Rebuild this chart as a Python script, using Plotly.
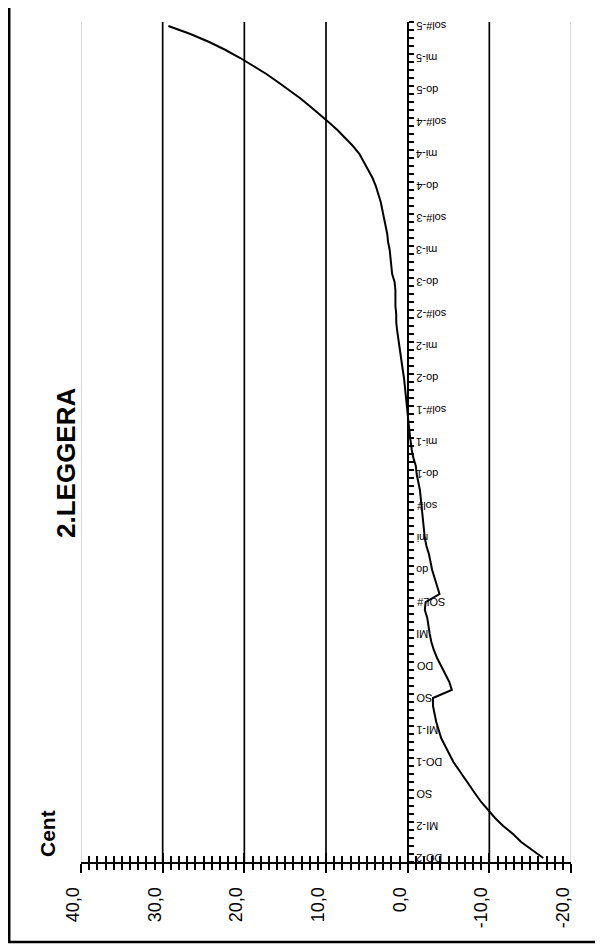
import plotly.graph_objects as go

# ---- data ----
# one point per semitone, from DO-2 (index 0) up to sol#-5 (index 104)
cents = [
    -16.6, -15.2, -13.9, -12.9, -11.7, -10.7, -9.8, -9.0, -8.3, -7.6,
    -6.9, -6.2, -5.6, -5.1, -4.6, -4.1, -3.8, -3.5, -3.3, -3.1,
    -3.1, -5.4, -5.1, -4.6, -4.0, -3.6, -3.2, -2.9, -2.7, -2.55,
    -2.4, -2.1, -2.2, -3.9, -3.6, -3.3, -3.0, -2.8, -2.6, -2.3,
    -2.1, -2.0, -1.9, -1.8, -1.7, -1.6, -1.5, -1.3, -1.1, -1.0,
    -0.7, -0.5, -0.35, -0.25, -0.15, -0.05, 0.0, 0.1, 0.2, 0.35,
    0.45, 0.6, 0.75, 0.9, 1.0, 1.15, 1.3, 1.4, 1.4, 1.5,
    1.5, 1.5, 1.6, 1.9, 2.0, 2.1, 2.2, 2.4, 2.5, 2.7,
    2.9, 3.1, 3.3, 3.6, 3.9, 4.3, 4.8, 5.3, 5.9, 6.7,
    7.6, 8.6, 9.7, 10.8, 12.0, 13.2, 14.5, 15.9, 17.3, 18.9,
    20.5, 22.3, 24.3, 26.6, 29.3,
]
note_labels = [
    "DO-2", "MI-2", "SO", "DO-1", "MI-1", "SO", "DO", "MI", "SOL#",
    "do", "mi", "sol#", "do-1", "mi-1", "sol#-1", "do-2", "mi-2", "sol#-2",
    "do-3", "mi-3", "sol#-3", "do-4", "mi-4", "sol#-4", "do-5", "mi-5", "sol#-5",
]
label_step = 4
value_ticks = [40, 30, 20, 10, 0, -10, -20]
value_ticktext = ["40,0", "30,0", "20,0", "10,0", "0,0", "-10,0", "-20,0"]
inner_grid = [30, 20, 10, -10]
edge_grid = [40, -20]
title_text = "2.LEGGERA"
axis_title = "Cent"

positions = list(range(len(cents)))
label_positions = [i * label_step for i in range(len(note_labels))]

FONT = "Arial, 'Liberation Sans', sans-serif"

fig = go.Figure()
fig.add_trace(go.Scatter(
    x=cents, y=positions, mode="lines",
    line=dict(color="black", width=2), xaxis="x", yaxis="y",
    showlegend=False, hoverinfo="skip",
))
# invisible trace to activate the overlay axis (inside ticks)
fig.add_trace(go.Scatter(
    x=[value_ticks[0], value_ticks[-1]], y=[positions[0], positions[0]],
    mode="markers", marker=dict(opacity=0), xaxis="x2", yaxis="y",
    showlegend=False, hoverinfo="skip",
))

xrange = [value_ticks[0], value_ticks[-1]]
zero_frac = (value_ticks[0] - 0) / (value_ticks[0] - value_ticks[-1])

fig.update_layout(
    width=595, height=941,
    margin=dict(l=73, r=32, t=14, b=87),
    paper_bgcolor="white", plot_bgcolor="white",
    font=dict(family=FONT, color="black"),
    xaxis=dict(
        range=xrange, showgrid=False, zeroline=False,
        showline=True, linecolor="black", linewidth=2,
        tickvals=value_ticks, ticktext=value_ticktext,
        tickangle=-90, tickfont=dict(size=18, family=FONT),
        ticks="outside", ticklen=9, tickwidth=2, tickcolor="black",
        minor=dict(dtick=1, tick0=0, ticks="outside", ticklen=6,
                   tickwidth=1.5, tickcolor="black", showgrid=False),
        ticklabelstandoff=7, ticklabelshift=8,
        anchor="y",
    ),
    xaxis2=dict(
        range=xrange, overlaying="x", anchor="y", side="bottom",
        showgrid=False, zeroline=False, showline=False,
        tickvals=value_ticks, showticklabels=False,
        ticks="inside", ticklen=9, tickwidth=2, tickcolor="black",
        minor=dict(dtick=1, tick0=0, ticks="inside", ticklen=6,
                   tickwidth=1.5, tickcolor="black", showgrid=False),
    ),
    yaxis=dict(
        range=[-0.5, len(cents) - 0.5], showgrid=False, zeroline=False,
        anchor="free", position=zero_frac, side="right",
        showline=True, linecolor="black", linewidth=2,
        tickvals=label_positions, showticklabels=False,
        ticks="",
        minor=dict(dtick=1, tick0=-0.5, ticks="outside", ticklen=5,
                   tickwidth=1.5, tickcolor="black", showgrid=False),
    ),
)

shapes = []
for v in inner_grid:
    shapes.append(dict(type="line", xref="x", yref="paper", x0=v, x1=v, y0=0, y1=1,
                       line=dict(color="black", width=1.7), layer="below"))
for v in edge_grid:
    shapes.append(dict(type="line", xref="x", yref="paper", x0=v, x1=v, y0=0, y1=1,
                       line=dict(color="#b4b4b4", width=1), layer="below"))
# outer chart frame
shapes.append(dict(type="rect", xref="paper", yref="paper",
                   x0=-0.1465, x1=1.0612, y0=-0.0952, y1=1.03,
                   line=dict(color="black", width=2.5), fillcolor="rgba(0,0,0,0)"))
fig.update_layout(shapes=shapes)

# category labels (upside down, right of the category axis)
for pos, lab in zip(label_positions, note_labels):
    fig.add_annotation(text=lab, xref="x", yref="y", x=0, y=pos,
                       xanchor="left", yanchor="middle", xshift=7,
                       textangle=180, showarrow=False,
                       font=dict(size=11, family=FONT, color="black"))

fig.add_annotation(text="<b>%s</b>" % title_text, xref="paper", yref="paper",
                   x=-0.0653, y=0.475, textangle=-90, showarrow=False,
                   font=dict(size=26, family=FONT, color="black"))
fig.add_annotation(text="<b>%s</b>" % axis_title, xref="paper", yref="paper",
                   x=-0.0959, y=0.0036, textangle=-90, showarrow=False,
                   font=dict(size=21, family=FONT, color="black"))

fig.write_html("out.html")
